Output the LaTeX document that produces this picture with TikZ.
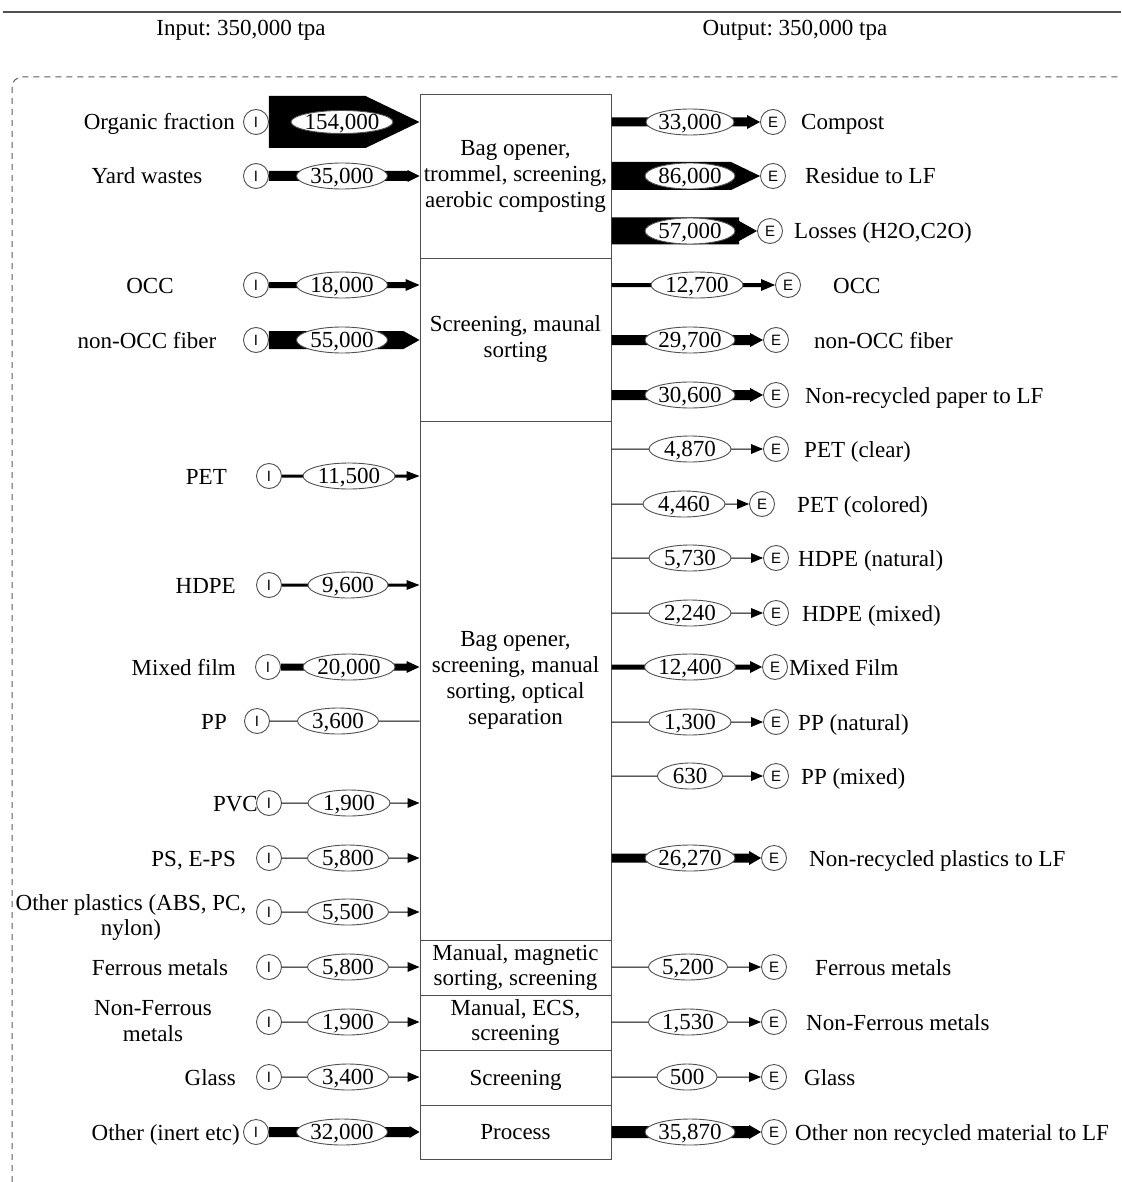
\documentclass[tikz,border=0pt]{standalone}
\usepackage{fontspec}
\setmainfont{Liberation Serif}
\newfontfamily\sansf{Liberation Sans}
\usetikzlibrary{calc,shapes.geometric}
\frenchspacing
\definecolor{edge}{HTML}{505050}
\definecolor{frame}{HTML}{5A5A5A}
\newcommand\ctext[1]{\makebox[0pt][c]{\smash{\raisebox{-0.33em}{#1}}}}
% band from #1 to #2, half thickness #3, head length #4, head half width #5
\newcommand\flow[5]{%
  \fill ($(#1)+(0,#3)$) -- ($(#2)+(-#4,#3)$) -- ($(#2)+(-#4,#5)$) -- (#2)
    -- ($(#2)+(-#4,-#5)$) -- ($(#2)+(-#4,-#3)$) -- ($(#1)+(0,-#3)$) -- cycle;}
\tikzset{
  proc/.style={draw=edge, line width=1pt, minimum width=191pt, inner sep=1pt, align=center},
  io/.style={circle, draw=edge, line width=0.9pt, minimum size=25pt, inner sep=0pt, fill=white,
    font=\sansf\fontsize{15}{15}\selectfont},
  qty/.style={ellipse, draw=edge, line width=0.9pt, fill=white, inner sep=0pt, minimum height=26pt},
  lab/.style={inner sep=0pt},
}
\begin{document}
\begin{tikzpicture}[x=1pt,y=-1pt,font=\fontsize{23}{26}\selectfont]
\useasboundingbox (0,0) rectangle (1121,1182);
% header and frame
\draw[edge, line width=1.2pt] (3,12) -- (1121,12);
\node[lab, anchor=base] (hin) at (241,36) {Input: 350,000 tpa};
\node[lab, anchor=base] (hout) at (795,36) {Output: 350,000 tpa};
\draw[frame, line width=1pt, dash pattern=on 6pt off 5pt, rounded corners=10pt] (12,1182) -- (12,77) -- (1121,77);

% process boxes
\node[proc, minimum height=163pt] (b1) at (515.5,176.5) {Bag opener,\\trommel, screening,\\aerobic composting};
\node[proc, minimum height=163pt] (b2) at (515.5,339.5) {Screening, maunal\\sorting};
\node[proc, minimum height=519pt] (b3) at (515.5,680.5) {Bag opener,\\screening, manual\\sorting, optical\\separation};
\node[proc, minimum height=55pt, font=\fontsize{23}{25}\selectfont] (b4) at (515.5,967.5) {Manual, magnetic\\sorting, screening};
\node[proc, minimum height=55pt, font=\fontsize{23}{25}\selectfont] (b5) at (515.5,1022.5) {Manual, ECS,\\screening};
\node[proc, minimum height=55pt] (b6) at (515.5,1077.5) {\ctext{Screening}};
\node[proc, minimum height=54pt] (b7) at (515.5,1132) {\ctext{Process}};

% input circles
\node[io] (i1) at (256,122) {I};
\node[io] (i2) at (256,176) {I};
\node[io] (i3) at (256,285) {I};
\node[io] (i4) at (256,340) {I};
\node[io] (i5) at (269,476) {I};
\node[io] (i6) at (269,585) {I};
\node[io] (i7) at (268,667) {I};
\node[io] (i8) at (257,721) {I};
\node[io] (i9) at (269,803) {I};
\node[io] (i10) at (269,858) {I};
\node[io] (i11) at (269,912) {I};
\node[io] (i12) at (269,967) {I};
\node[io] (i13) at (269,1022) {I};
\node[io] (i14) at (269,1077) {I};
\node[io] (i15) at (256,1132) {I};

% output circles
\node[io] (e1) at (773,122) {E};
\node[io] (e2) at (773,176) {E};
\node[io] (e3) at (770,231) {E};
\node[io] (e4) at (788,285) {E};
\node[io] (e5) at (776,340) {E};
\node[io] (e6) at (776,395) {E};
\node[io] (e7) at (776,449) {E};
\node[io] (e8) at (762,504) {E};
\node[io] (e9) at (776,558) {E};
\node[io] (e10) at (776,613) {E};
\node[io] (e11) at (775,667) {E};
\node[io] (e12) at (776,722) {E};
\node[io] (e13) at (776,776) {E};
\node[io] (e14) at (774,858) {E};
\node[io] (e15) at (774,967) {E};
\node[io] (e16) at (774,1022) {E};
\node[io] (e17) at (774,1077) {E};
\node[io] (e18) at (774,1132) {E};

% input flows
\flow{i1.east}{b1.west|-i1}{26}{54}{26}
\flow{i2.east}{b1.west|-i2}{5}{12}{6}
\flow{i3.east}{b2.west|-i3}{3}{14}{6}
\flow{i4.east}{b2.west|-i4}{9}{16}{9}
\flow{i5.east}{b3.west|-i5}{1.5}{13}{5}
\flow{i6.east}{b3.west|-i6}{1.5}{13}{5}
\flow{i7.east}{b3.west|-i7}{3.5}{13}{6}
\flow{i8.east}{b3.west|-i8}{0.5}{0}{0.5}
\flow{i9.east}{b3.west|-i9}{0.5}{12}{5}
\flow{i10.east}{b3.west|-i10}{0.5}{12}{5}
\flow{i11.east}{b3.west|-i11}{0.5}{12}{5}
\flow{i12.east}{b4.west|-i12}{0.5}{12}{5}
\flow{i13.east}{b5.west|-i13}{0.5}{12}{5}
\flow{i14.east}{b6.west|-i14}{0.5}{12}{5}
\flow{i15.east}{b7.west|-i15}{5}{10}{6}

% output flows
\flow{b1.east|-e1}{e1.west}{4.5}{13}{7}
\flow{b1.east|-e2}{e2.west}{14}{29}{14}
\flow{b1.east|-e3}{e3.west}{13.5}{18}{10}
\flow{b2.east|-e4}{e4.west}{2}{14}{6}
\flow{b2.east|-e5}{e5.west}{5}{13}{7}
\flow{b2.east|-e6}{e6.west}{5}{13}{7}
\flow{b3.east|-e7}{e7.west}{0.5}{12}{5}
\flow{b3.east|-e8}{e8.west}{0.5}{12}{5}
\flow{b3.east|-e9}{e9.west}{0.5}{12}{5}
\flow{b3.east|-e10}{e10.west}{0.5}{12}{5}
\flow{b3.east|-e11}{e11.west}{2.5}{12}{6}
\flow{b3.east|-e12}{e12.west}{0.5}{12}{5}
\flow{b3.east|-e13}{e13.west}{0.5}{12}{5}
\flow{b3.east|-e14}{e14.west}{4.5}{12}{7}
\flow{b4.east|-e15}{e15.west}{0.5}{12}{5}
\flow{b5.east|-e16}{e16.west}{0.5}{12}{5}
\flow{b6.east|-e17}{e17.west}{0.5}{12}{5}
\flow{b7.east|-e18}{e18.west}{6}{12}{7}

% input quantities
\node[qty, minimum width=102pt, minimum height=23pt] (q1) at (342,122) {\ctext{154,000}};
\node[qty, minimum width=91pt] (q2) at (342,176) {\ctext{35,000}};
\node[qty, minimum width=91pt] (q3) at (342,285) {\ctext{18,000}};
\node[qty, minimum width=91pt] (q4) at (342,340) {\ctext{55,000}};
\node[qty, minimum width=92pt] (q5) at (349,476) {\ctext{11,500}};
\node[qty, minimum width=80pt] (q6) at (348,585) {\ctext{9,600}};
\node[qty, minimum width=92pt] (q7) at (349,667) {\ctext{20,000}};
\node[qty, minimum width=81pt] (q8) at (338,721) {\ctext{3,600}};
\node[qty, minimum width=82pt] (q9) at (349,803) {\ctext{1,900}};
\node[qty, minimum width=81pt] (q10) at (348,858) {\ctext{5,800}};
\node[qty, minimum width=81pt] (q11) at (348,912) {\ctext{5,500}};
\node[qty, minimum width=81pt] (q12) at (348,967) {\ctext{5,800}};
\node[qty, minimum width=81pt] (q13) at (348,1022) {\ctext{1,900}};
\node[qty, minimum width=81pt] (q14) at (348,1077) {\ctext{3,400}};
\node[qty, minimum width=91pt] (q15) at (342,1132) {\ctext{32,000}};

% output quantities
\node[qty, minimum width=88pt] (r1) at (690,122) {\ctext{33,000}};
\node[qty, minimum width=90pt] (r2) at (690,176) {\ctext{86,000}};
\node[qty, minimum width=90pt] (r3) at (690,231) {\ctext{57,000}};
\node[qty, minimum width=92pt] (r4) at (697,285) {\ctext{12,700}};
\node[qty, minimum width=90pt] (r5) at (690,340) {\ctext{29,700}};
\node[qty, minimum width=90pt] (r6) at (690,395) {\ctext{30,600}};
\node[qty, minimum width=82pt] (r7) at (690,449) {\ctext{4,870}};
\node[qty, minimum width=82pt] (r8) at (684,504) {\ctext{4,460}};
\node[qty, minimum width=82pt] (r9) at (690,558) {\ctext{5,730}};
\node[qty, minimum width=82pt] (r10) at (690,613) {\ctext{2,240}};
\node[qty, minimum width=91pt] (r11) at (690,667) {\ctext{12,400}};
\node[qty, minimum width=82pt] (r12) at (690,722) {\ctext{1,300}};
\node[qty, minimum width=65pt] (r13) at (690,776) {\ctext{630}};
\node[qty, minimum width=90pt] (r14) at (690,858) {\ctext{26,270}};
\node[qty, minimum width=79pt] (r15) at (688,967) {\ctext{5,200}};
\node[qty, minimum width=79pt] (r16) at (688,1022) {\ctext{1,530}};
\node[qty, minimum width=60pt] (r17) at (687,1077) {\ctext{500}};
\node[qty, minimum width=90pt] (r18) at (690,1132) {\ctext{35,870}};

% input labels
\node[lab, anchor=base east] (l1) at (235,130) {Organic fraction};
\node[lab, anchor=base] (l2) at (147,184) {Yard wastes};
\node[lab, anchor=base] (l3) at (150,293) {OCC};
\node[lab, anchor=base] (l4) at (147,348) {non-OCC fiber};
\node[lab, anchor=base east] (l5) at (227,484) {PET};
\node[lab, anchor=base east] (l6) at (236,593) {HDPE};
\node[lab, anchor=base east] (l7) at (236,675) {Mixed film};
\node[lab, anchor=base east] (l8) at (227,729) {PP};
\node[lab, anchor=base east] (l9) at (258,811) {PVC};
\node[lab, anchor=base east] (l10) at (236,866) {PS, E-PS};
\node[lab, align=center, font=\fontsize{23}{25}\selectfont] (l11) at (131,917) {Other plastics (ABS, PC,\\nylon)};
\node[lab, anchor=base] (l12) at (160,975) {Ferrous metals};
\node[lab, align=center] (l13) at (153,1021.5) {Non-Ferrous\\metals};
\node[lab, anchor=base east] (l14) at (236,1085) {Glass};
\node[lab, anchor=base east] (l15) at (240,1140) {Other (inert etc)};

% output labels
\node[lab, anchor=base west] (o1) at (801,130) {Compost};
\node[lab, anchor=base west] (o2) at (805,184) {Residue to LF};
\node[lab, anchor=base west] (o3) at (794,239) {Losses (H2O,C2O)};
\node[lab, anchor=base west] (o4) at (833,293) {OCC};
\node[lab, anchor=base west] (o5) at (814,348) {non-OCC fiber};
\node[lab, anchor=base west] (o6) at (805,403) {Non-recycled paper to LF};
\node[lab, anchor=base west] (o7) at (804,457) {PET (clear)};
\node[lab, anchor=base west] (o8) at (797,512) {PET (colored)};
\node[lab, anchor=base west] (o9) at (798,566) {HDPE (natural)};
\node[lab, anchor=base west] (o10) at (802,621) {HDPE (mixed)};
\node[lab, anchor=base west] (o11) at (789,675) {Mixed Film};
\node[lab, anchor=base west] (o12) at (798,730) {PP (natural)};
\node[lab, anchor=base west] (o13) at (801,784) {PP (mixed)};
\node[lab, anchor=base west] (o14) at (809,866) {Non-recycled plastics to LF};
\node[lab, anchor=base west] (o15) at (815,975) {Ferrous metals};
\node[lab, anchor=base west] (o16) at (806,1030) {Non-Ferrous metals};
\node[lab, anchor=base west] (o17) at (804,1085) {Glass};
\node[lab, anchor=base west] (o18) at (795,1140) {Other non recycled material to LF};
\end{tikzpicture}
\end{document}
